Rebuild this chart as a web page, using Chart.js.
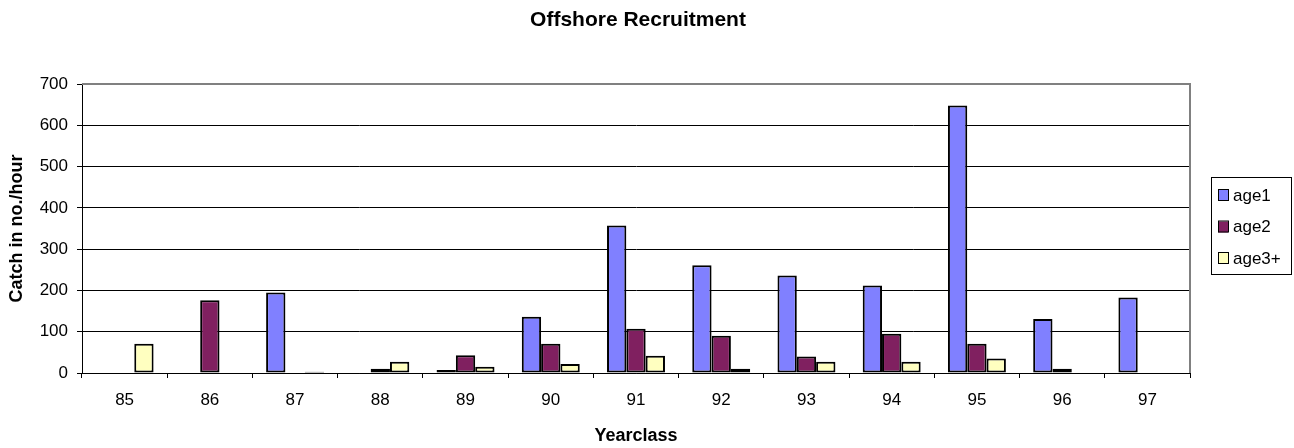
<!DOCTYPE html>
<html>
<head>
<meta charset="utf-8">
<script src="https://cdn.jsdelivr.net/npm/chart.js@4"></script>
<style>
  html, body { margin: 0; padding: 0; background: #fff; }
  #wrap { width: 1294px; height: 448px; }
</style>
</head>
<body>
<div id="wrap"><canvas id="recruitChart" width="1294" height="448"></canvas></div>
<script>
// Yearclass categories and catch per hour by age group
const yearclasses = ['85', '86', '87', '88', '89', '90', '91', '92', '93', '94', '95', '96', '97'];
const age1 = [null, null, 195, null, 7, 136, 357, 261, 236, 212, 648, 131, 183];
const age2 = [null, 176, null, 10, 43, 71, 107, 90, 40, 95, 71, 10, null];
const age3plus = [71, null, 3, 27, 15, 22, 42, 10, 27, 27, 35, null, null];
const yTicks = [0, 100, 200, 300, 400, 500, 600, 700];
const chartTitle = 'Offshore Recruitment';

const FONT = '"Liberation Sans", Arial, sans-serif';

// Title centred over the plot area, plus the gray frame on top and right
const frame = {
    id: 'frame',
    beforeDatasetsDraw(chart) {
        const a = chart.chartArea;
        const c = chart.ctx;
        c.save();
        c.strokeStyle = '#808080';
        c.lineWidth = 2;
        c.beginPath();
        c.moveTo(a.left, a.top);
        c.lineTo(a.right, a.top);
        c.lineTo(a.right, a.bottom);
        c.stroke();
        c.restore();
    },
    afterDraw(chart) {
        const a = chart.chartArea;
        const c = chart.ctx;
        c.save();
        c.font = 'bold 21px ' + FONT;
        c.fillStyle = '#000';
        c.textAlign = 'center';
        c.textBaseline = 'middle';
        c.fillText(chartTitle, (a.left + a.right) / 2 + 2, 20);
        c.restore();
    }
};

// Boxed legend to the right of the plot
const boxLegend = {
    id: 'boxLegend',
    afterDraw(chart) {
        const c = chart.ctx;
        const x = 1211, y = 177, w = 80, h = 97;
        c.save();
        c.fillStyle = '#fff';
        c.fillRect(x, y, w, h);
        c.strokeStyle = '#000';
        c.lineWidth = 1;
        c.strokeRect(x + 0.5, y + 0.5, w, h);
        c.font = '17px ' + FONT;
        c.textBaseline = 'middle';
        chart.data.datasets.forEach((ds, i) => {
            const cy = y + 18 + i * 31.5;
            c.fillStyle = ds.backgroundColor;
            c.fillRect(x + 7, cy - 5, 10, 11);
            c.strokeStyle = '#000';
            c.strokeRect(x + 7.5, cy - 5.5, 10, 11);
            c.fillStyle = '#000';
            c.fillText(ds.label, x + 22, cy + 1);
        });
        c.restore();
    }
};

const ctx = document.getElementById('recruitChart').getContext('2d');
new Chart(ctx, {
    type: 'bar',
    data: {
        labels: yearclasses,
        datasets: [
            { label: 'age1', data: age1, backgroundColor: '#8080ff' },
            { label: 'age2', data: age2, backgroundColor: '#802060' },
            { label: 'age3+', data: age3plus, backgroundColor: '#ffffc0' }
        ].map(d => Object.assign(d, {
            borderColor: '#000',
            borderWidth: 2,
            borderSkipped: false,
            categoryPercentage: 0.68,
            barPercentage: 1.0
        }))
    },
    options: {
        responsive: false,
        animation: false,
        layout: { padding: { left: 0, right: 104, top: 84, bottom: 0 } },
        plugins: {
            legend: { display: false },
            tooltip: { enabled: false },
            title: { display: false }
        },
        scales: {
            x: {
                offset: true,
                grid: {
                    offset: true,
                    drawOnChartArea: false,
                    drawTicks: true,
                    tickLength: 5,
                    color: '#000'
                },
                border: { color: '#000', width: 1 },
                ticks: {
                    color: '#000',
                    font: { family: FONT, size: 17 },
                    padding: 12,
                    maxRotation: 0
                },
                title: {
                    display: true,
                    text: 'Yearclass',
                    color: '#000',
                    font: { family: FONT, size: 18, weight: 'bold' },
                    padding: { top: 1, bottom: 1 }
                },
                afterFit(scale) { scale.height = 75; }
            },
            y: {
                min: 0,
                max: 700,
                afterBuildTicks(scale) { scale.ticks = yTicks.map(v => ({ value: v })); },
                grid: {
                    color: c => (c.tick && c.tick.value === 700 ? '#808080' : '#000'),
                    tickLength: 5,
                    tickColor: '#000'
                },
                border: { color: '#000', width: 1 },
                ticks: {
                    color: '#000',
                    font: { family: FONT, size: 17 },
                    padding: 9
                },
                title: {
                    display: true,
                    text: 'Catch in no./hour',
                    color: '#000',
                    font: { family: FONT, size: 18, weight: 'bold' },
                    padding: { top: 6, bottom: 6 }
                },
                afterFit(scale) { scale.width = 82; }
            }
        }
    },
    plugins: [frame, boxLegend]
});
</script>
</body>
</html>
